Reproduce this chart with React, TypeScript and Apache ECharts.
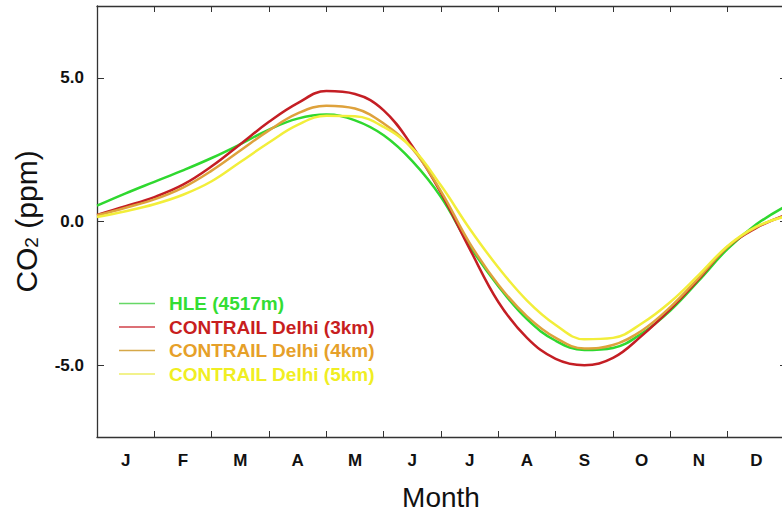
import React, { useEffect, useRef } from "react";
import * as echarts from "echarts";

const monthLabels = ["J", "F", "M", "A", "M", "J", "J", "A", "S", "O", "N", "D"];
const monthPos = [0, 0.5, 1, 1.5, 2, 2.5, 3, 3.5, 4, 4.5, 5, 5.5, 6, 6.5, 7, 7.5, 8, 8.5, 9, 9.5, 10, 10.5, 11, 11.5, 12];

const hle = [0.55, 0.98, 1.38, 1.78, 2.21, 2.69, 3.2, 3.58, 3.72, 3.52, 3.0, 2.1, 0.85, -0.85, -2.25, -3.4, -4.15, -4.47, -4.4, -3.9, -3.1, -2.05, -0.95, -0.1, 0.52];
const delhi3 = [0.23, 0.53, 0.85, 1.28, 1.92, 2.69, 3.47, 4.12, 4.54, 4.44, 3.87, 2.62, 1.0, -0.95, -2.8, -4.05, -4.78, -5.0, -4.75, -3.98, -3.05, -2.0, -0.88, -0.22, 0.22];
const delhi4 = [0.22, 0.48, 0.77, 1.18, 1.77, 2.47, 3.17, 3.76, 4.03, 3.93, 3.41, 2.53, 1.05, -0.75, -2.2, -3.3, -4.05, -4.42, -4.3, -3.8, -2.98, -1.95, -0.88, -0.2, 0.2];
const delhi5 = [0.16, 0.36, 0.6, 0.93, 1.4, 2.07, 2.75, 3.36, 3.68, 3.66, 3.29, 2.55, 1.25, -0.25, -1.6, -2.75, -3.6, -4.1, -4.05, -3.55, -2.8, -1.85, -0.85, -0.18, 0.17];
const yTicks = [-5, 0, 5];

const seriesDefs = [
  { name: "HLE (4517m)", values: hle, line: "#2fd82f", icon: "#66d866", text: "#33dd33" },
  { name: "CONTRAIL Delhi (3km)", values: delhi3, line: "#c41e24", icon: "#d04048", text: "#c81e1e" },
  { name: "CONTRAIL Delhi (4km)", values: delhi4, line: "#dea23c", icon: "#d6a848", text: "#e6a029" },
  { name: "CONTRAIL Delhi (5km)", values: delhi5, line: "#f2ee3a", icon: "#eeee66", text: "#f0ee22" },
];

const FONT = "'Liberation Sans', Arial, Helvetica, sans-serif";
const AX = "#333";

export default function App() {
  const ref = useRef<HTMLDivElement>(null);
  useEffect(() => {
    if (!ref.current) return;
    const chart = echarts.init(ref.current, null, { renderer: "svg" });
    const option: any = {
      animation: false,
      backgroundColor: "#ffffff",
      grid: { left: 97, right: 1, top: 6, bottom: 75, containLabel: false, outerBoundsMode: "none" },
      legend: {
        left: 114,
        top: 289,
        orient: "vertical",
        icon: "rect",
        itemWidth: 36,
        itemHeight: 1.6,
        itemGap: 4.5,
        textStyle: { fontFamily: FONT, fontSize: 19, fontWeight: "bold", lineHeight: 19, padding: [0, 0, 0, 9] },
        data: seriesDefs.map((s) => ({
          name: s.name,
          itemStyle: { color: s.icon },
          textStyle: { color: s.text },
        })),
      },
      xAxis: [
        {
          type: "category",
          data: monthLabels,
          position: "bottom",
          boundaryGap: true,
          axisLine: { show: true, onZero: false, lineStyle: { color: AX, width: 1.3 } },
          axisTick: { show: true, interval: 0, inside: true, length: 6, lineStyle: { color: AX, width: 1 } },
          axisLabel: { fontFamily: FONT, fontSize: 17, fontWeight: "bold", color: "#111", margin: 15, interval: 0 },
          name: "Month",
          nameLocation: "middle",
          nameGap: 46,
          nameTextStyle: { fontFamily: FONT, fontSize: 28, color: "#111" },
          splitLine: { show: false },
        },
        {
          type: "value",
          min: 0,
          max: 12,
          show: false,
        },
        {
          type: "category",
          data: monthLabels,
          position: "top",
          boundaryGap: true,
          axisLine: { show: true, onZero: false, lineStyle: { color: AX, width: 1.3 } },
          axisTick: { show: true, interval: 0, inside: true, length: 6, lineStyle: { color: AX, width: 1 } },
          axisLabel: { show: false },
          splitLine: { show: false },
        },
      ],
      yAxis: [
        {
          type: "value",
          min: -7.5,
          max: 7.5,
          position: "left",
          axisLine: { show: true, onZero: false, lineStyle: { color: AX, width: 1.3 } },
          axisTick: { show: true, inside: true, length: 7, customValues: yTicks, lineStyle: { color: AX, width: 1 } },
          axisLabel: {
            customValues: yTicks,
            formatter: (v: number) => v.toFixed(1),
            fontFamily: FONT,
            fontSize: 17,
            fontWeight: "bold",
            color: "#111",
            margin: 13,
          },
          splitLine: { show: false },
          name: "CO{sub|2} (ppm)",
          nameLocation: "middle",
          nameGap: 56,
          nameTextStyle: {
            fontFamily: FONT,
            fontSize: 30,
            color: "#111",
            rich: { sub: { fontFamily: FONT, fontSize: 19, color: "#111", verticalAlign: "bottom" } },
          },
        },
        {
          type: "value",
          min: -7.5,
          max: 7.5,
          position: "right",
          axisLine: { show: true, onZero: false, lineStyle: { color: AX, width: 1.3 } },
          axisTick: { show: true, inside: true, length: 5, customValues: yTicks, lineStyle: { color: AX, width: 1 } },
          axisLabel: { show: false },
          splitLine: { show: false },
        },
      ],
      series: seriesDefs.map((s) => ({
        name: s.name,
        type: "line",
        xAxisIndex: 1,
        yAxisIndex: 0,
        smooth: 0.4,
        symbol: "none",
        color: s.line,
        lineStyle: { width: 2.5, color: s.line },
        data: monthPos.map((m, i) => [m, s.values[i]]),
      })),
    };
    chart.setOption(option);
    return () => chart.dispose();
  }, []);
  return (
    <div style={{ position: "fixed", left: 0, top: 0, width: 782, height: 512, overflow: "hidden" }}>
      <div ref={ref} style={{ width: 786, height: 512 }} />
    </div>
  );
}
